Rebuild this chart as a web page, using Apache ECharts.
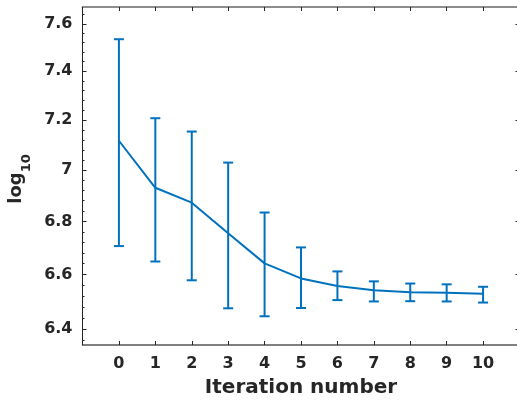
<!DOCTYPE html>
<html>
<head>
<meta charset="utf-8">
<script src="https://cdn.jsdelivr.net/npm/echarts@6/dist/echarts.min.js"></script>
<style>
html,body{margin:0;padding:0;background:#fff;}
#chart{width:517px;height:400px;}
</style>
</head>
<body>
<div id="chart"></div>
<script>
// ---- data ----
const iterations = [0, 1, 2, 3, 4, 5, 6, 7, 8, 9, 10];
const meanValues = [7.116, 6.930, 6.872, 6.755, 6.641, 6.585, 6.557, 6.541, 6.534, 6.532, 6.528];
const upperValues = [7.535, 7.207, 7.153, 7.029, 6.834, 6.701, 6.611, 6.574, 6.566, 6.563, 6.554];
const lowerValues = [6.706, 6.648, 6.578, 6.475, 6.446, 6.476, 6.505, 6.500, 6.501, 6.500, 6.496];
const yMajorTicks = [6.4, 6.6, 6.8, 7.0, 7.2, 7.4, 7.6];
const yMinorTicks = [6.36, 6.44, 6.48, 6.52, 6.56, 6.64, 6.68, 6.72, 6.76, 6.84, 6.88, 6.92, 6.96,
  7.04, 7.08, 7.12, 7.16, 7.24, 7.28, 7.32, 7.36, 7.44, 7.48, 7.52, 7.56, 7.64];
const yRange = [6.3425, 7.673];
const xRange = [-1, 11];

// y axis is logarithmic: plot log10 of values on a linear axis
const L = v => Math.log10(v);
const fmtY = v => {
  const r = Math.round(Math.pow(10, v) * 10) / 10;
  return Number.isInteger(r) ? String(r) : r.toFixed(1);
};

const BLUE = '#0072BD';
const AX = '#262626';
const FONT = 'DejaVu Sans';

const lineData = iterations.map((x, i) => [x, L(meanValues[i])]);
const errData = iterations.map((x, i) => [x, L(lowerValues[i]), L(upperValues[i])]);

const chart = echarts.init(document.getElementById('chart'), null, {renderer: 'canvas'});

const baseY = {
  type: 'value',
  min: L(yRange[0]),
  max: L(yRange[1]),
  splitLine: {show: false},
  axisLine: {show: false, onZero: false},
  axisLabel: {show: false},
  axisTick: {show: false}
};

chart.setOption({
  backgroundColor: '#ffffff',
  animation: false,
  grid: {left: 82.5, right: -2.5, top: 7, bottom: 55, containLabel: false, outerBoundsMode: 'none'},
  xAxis: [
    {
      type: 'value', min: xRange[0], max: xRange[1], interval: 1, position: 'bottom',
      splitLine: {show: false},
      axisLine: {show: true, onZero: false, lineStyle: {color: '#555', width: 1.5}},
      axisTick: {show: true, inside: true, length: 4, lineStyle: {color: AX, width: 1}},
      axisLabel: {
        show: true, margin: 11, color: AX, fontSize: 16, fontWeight: 'bold', fontFamily: FONT,
        formatter: v => (v >= 0 && v <= 10 ? String(v) : '')
      },
      name: 'Iteration number', nameLocation: 'middle', nameGap: 33,
      nameTextStyle: {color: AX, fontSize: 20, fontWeight: 'bold', fontFamily: FONT}
    },
    {
      type: 'value', min: xRange[0], max: xRange[1], interval: 1, position: 'top',
      splitLine: {show: false},
      axisLine: {show: true, onZero: false, lineStyle: {color: '#8c8c8c', width: 2}},
      axisTick: {show: true, inside: true, length: 4, lineStyle: {color: AX, width: 1}},
      axisLabel: {show: false}
    }
  ],
  yAxis: [
    Object.assign({}, baseY, {
      position: 'left',
      axisLine: {show: true, onZero: false, lineStyle: {color: AX, width: 1}},
      axisTick: {show: true, inside: true, length: 4, customValues: yMajorTicks.map(L), lineStyle: {color: AX, width: 1}},
      axisLabel: {
        show: true, margin: 10, color: AX, fontSize: 16, fontWeight: 'bold', fontFamily: FONT,
        customValues: yMajorTicks.map(L), formatter: fmtY
      },
      name: '{a|log}{b|10}', nameLocation: 'middle', nameGap: 45, nameRotate: 90,
      nameTextStyle: {
        color: AX, fontFamily: FONT, fontWeight: 'bold', padding: [0, 6, 0, 0],
        rich: {
          a: {fontSize: 18, lineHeight: 20, fontWeight: 'bold', fontFamily: FONT, color: AX},
          b: {fontSize: 13, lineHeight: 13, fontWeight: 'bold', fontFamily: FONT, color: AX, padding: [21, 0, 0, 0]}
        }
      }
    }),
    Object.assign({}, baseY, {
      position: 'left',
      axisTick: {show: true, inside: true, length: 2, customValues: yMinorTicks.map(L), lineStyle: {color: AX, width: 1}}
    }),
    Object.assign({}, baseY, {
      position: 'right',
      axisLine: {show: false, onZero: false},
      axisTick: {show: true, inside: true, length: 4, customValues: yMajorTicks.map(L), lineStyle: {color: AX, width: 1}}
    })
  ],
  series: [
    {
      type: 'line',
      xAxisIndex: 0, yAxisIndex: 0,
      data: lineData,
      showSymbol: false,
      symbol: 'none',
      lineStyle: {color: BLUE, width: 2},
      z: 3
    },
    {
      type: 'custom',
      xAxisIndex: 0, yAxisIndex: 0,
      data: errData,
      z: 4,
      renderItem: function (params, api) {
        const x = api.value(0);
        const lo = api.coord([x, api.value(1)]);
        const hi = api.coord([x, api.value(2)]);
        const hw = 5;
        const style = {stroke: BLUE, lineWidth: 2, fill: null};
        return {
          type: 'group',
          children: [
            {type: 'line', shape: {x1: lo[0], y1: lo[1], x2: hi[0], y2: hi[1]}, style: style},
            {type: 'line', shape: {x1: hi[0] - hw, y1: hi[1], x2: hi[0] + hw, y2: hi[1]}, style: style},
            {type: 'line', shape: {x1: lo[0] - hw, y1: lo[1], x2: lo[0] + hw, y2: lo[1]}, style: style}
          ]
        };
      }
    }
  ]
});
</script>
</body>
</html>
